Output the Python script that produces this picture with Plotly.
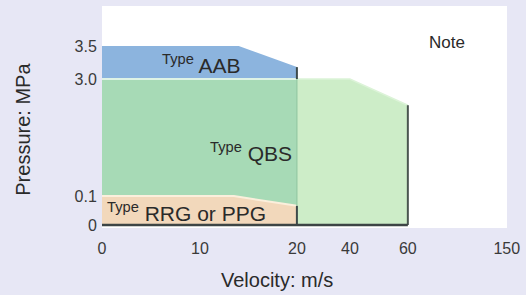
import numpy as np
import plotly.graph_objects as go

# ---- data ----
x_ticks = [0, 10, 20, 40, 60, 150]
x_tick_labels = ["0", "10", "20", "40", "60", "150"]
y_ticks = [0, 0.1, 3.0, 3.5]
y_tick_labels = ["0", "0.1", "3.0", "3.5"]

aab_v = [0, 14, 20, 20, 0]
aab_p = [3.5, 3.5, 3.18, 3.0, 3.0]

qbs_v = [0, 40, 60, 60, 0]
qbs_p = [3.0, 3.0, 2.35, 0, 0]

qbs_low_v = [0, 20, 20, 0]
qbs_low_p = [3.0, 3.0, 0, 0]

rrg_v = [0, 13.5, 20, 20, 0]
rrg_p = [0.1, 0.1, 0.066, 0, 0]

# ---- non-linear (schematic) axis scales ----
x_pos = [0, 98, 195, 248, 306, 405]
y_pos = [3, 32, 149, 182]


def sx(v):
    return np.interp(v, x_ticks, x_pos)


def sy(p):
    return np.interp(p, y_ticks, y_pos)


W, H = 526, 295
L, R, T, B = 102.3, 18.5, 6, 67
pw, ph = W - L - R, H - T - B


def px(xp):
    return (xp - L) / pw


def py(yp):
    return (H - B - yp) / ph


fig = go.Figure()


def poly(xv, yv, color):
    fig.add_trace(go.Scatter(x=sx(xv), y=sy(yv), fill="toself", fillcolor=color,
                             mode="lines", line=dict(width=0), hoverinfo="skip",
                             showlegend=False))


def seg(xv, yv, color, width):
    fig.add_trace(go.Scatter(x=sx(xv), y=sy(yv), mode="lines",
                             line=dict(color=color, width=width), hoverinfo="skip",
                             showlegend=False))


poly(qbs_v, qbs_p, "#cdedc8")
poly(qbs_low_v, qbs_low_p, "#a7dab6")
poly(aab_v, aab_p, "#8cb4de")
poly(rrg_v, rrg_p, "#f2d8bb")

# light separators
seg([0, 20], [3.0, 3.0], "#dff3e6", 2)
seg([20, 40, 60], [3.0, 3.0, 2.35], "#dcf3d8", 1.5)
seg(rrg_v[:3], rrg_p[:3], "#fbefdc", 2)
# boundary between QBS parts
seg([20, 20], [3.0, 0.066], "#93c9a3", 1.2)
# dark edges
seg([20, 20], [3.18, 3.0], "#3d4a4a", 2)
seg([20, 20], [0.066, 0], "#3d4a4a", 2)
seg([60, 60], [2.35, 0], "#4a5550", 2)
seg([0, 60], [0, 0], "#3d4545", 2.5)

font_family = "Liberation Sans, Arial, sans-serif"
txt = "#2a2a2a"

annos = [
    dict(x=sx(10.2), y=sy(3.23), text="<sup>Type</sup> AAB"),
    dict(x=sx(15.3), y=sy(1.19), text="<sup>Type</sup> QBS"),
    dict(x=sx(8.6), y=sy(0.045), text="<sup>Type</sup> RRG or PPG"),
]
for a in annos:
    fig.add_annotation(x=a["x"], y=a["y"], text=a["text"], showarrow=False,
                       xanchor="center", yanchor="middle",
                       font=dict(size=21, color=txt, family=font_family),
                       xref="x", yref="y")

fig.add_annotation(x=px(447), y=py(42), xref="paper", yref="paper", text="Note",
                   showarrow=False, xanchor="center", yanchor="middle",
                   font=dict(size=17, color=txt, family=font_family))
fig.add_annotation(x=px(277), y=py(280), xref="paper", yref="paper",
                   text="Velocity: m/s", showarrow=False,
                   xanchor="center", yanchor="middle",
                   font=dict(size=20, color=txt, family=font_family))
fig.add_annotation(x=px(23), y=py(129), xref="paper", yref="paper",
                   text="Pressure: MPa", showarrow=False, textangle=-90,
                   xanchor="center", yanchor="middle",
                   font=dict(size=20, color=txt, family=font_family))

fig.update_layout(
    width=W, height=H,
    margin=dict(l=L, r=R, t=T, b=B, pad=0),
    paper_bgcolor="#e7e7f5",
    plot_bgcolor="#ffffff",
    showlegend=False,
    xaxis=dict(range=[0, 405.2], tickvals=sx(x_ticks), ticktext=x_tick_labels,
               showgrid=False, zeroline=False, showline=False,
               ticks="outside", ticklen=6, tickcolor="rgba(0,0,0,0)",
               tickfont=dict(size=16, color="#3a3a3a", family=font_family),
               fixedrange=True),
    yaxis=dict(range=[0, 222], tickvals=sy(y_ticks), ticktext=y_tick_labels,
               showgrid=False, zeroline=False, showline=False,
               ticks="outside", ticklen=1, tickcolor="rgba(0,0,0,0)",
               tickfont=dict(size=16, color="#3a3a3a", family=font_family),
               fixedrange=True),
)

fig.write_html("out.html", config={"displayModeBar": False},
               post_script="document.body.style.margin='0';document.body.style.overflow='hidden';")
